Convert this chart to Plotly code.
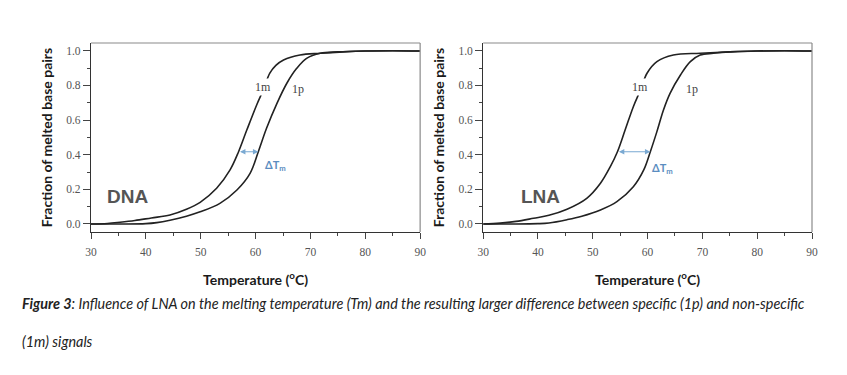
import plotly.graph_objects as go

# ---- data ----
dna_t_1m = [30, 33, 35.3, 38, 41, 44.4, 47.4, 49.9, 52.9, 55.35, 56.9, 58.4, 60.2, 61.4, 62.6, 63.7, 65.1, 68.1, 71.8, 76, 80, 85, 90]
dna_f_1m = [0, 0.003, 0.01, 0.02, 0.035, 0.052, 0.085, 0.125, 0.206, 0.312, 0.417, 0.542, 0.687, 0.773, 0.87, 0.915, 0.946, 0.975, 0.985, 0.993, 0.998, 1.0, 0.998]
dna_t_1p = [30, 35, 40, 42, 44.4, 47.4, 49.9, 53.5, 56.6, 59.0, 60.5, 62.0, 63.9, 65.7, 67.5, 69.3, 71.8, 75, 80, 85, 90]
dna_f_1p = [0, 0, 0.002, 0.008, 0.022, 0.045, 0.07, 0.119, 0.196, 0.292, 0.417, 0.552, 0.696, 0.812, 0.898, 0.956, 0.985, 0.993, 0.998, 1.0, 0.998]

lna_t_1m = [30, 33.1, 36, 39.2, 42, 45.3, 48.9, 51.4, 53.2, 54.5, 55.9, 57.4, 58.7, 59.9, 61.7, 64.7, 69.6, 75, 80, 85, 90]
lna_f_1m = [0, 0.005, 0.015, 0.033, 0.05, 0.085, 0.148, 0.235, 0.331, 0.417, 0.542, 0.677, 0.773, 0.87, 0.937, 0.975, 0.985, 0.993, 0.998, 1.0, 0.998]
lna_t_1p = [30, 35, 40, 42, 45.3, 48, 51.4, 54.4, 57.4, 59.3, 60.5, 61.7, 62.9, 64.1, 66.0, 67.8, 69.6, 72, 75, 80, 85, 90]
lna_f_1p = [0, 0, 0.002, 0.006, 0.025, 0.045, 0.081, 0.129, 0.215, 0.312, 0.417, 0.533, 0.658, 0.754, 0.86, 0.937, 0.975, 0.985, 0.993, 0.998, 1.0, 0.998]

panel_names = ["DNA", "LNA"]
x_ticks = [30, 40, 50, 60, 70, 80, 90]
y_ticks = [0.0, 0.2, 0.4, 0.6, 0.8, 1.0]
y_tick_labels = ["0.0", "0.2", "0.4", "0.6", "0.8", "1.0"]

# label positions [panel]: (T, fraction)
label_1m = [(61.4, 0.79), (58.7, 0.79)]
label_1p = [(67.8, 0.78), (68.1, 0.78)]
name_pos = [(36.6, 0.157), (40.4, 0.157)]
dtm_pos = [(63.6, 0.335), (62.8, 0.32)]
arrow_span = [(56.9, 60.5, 0.417), (54.5, 60.5, 0.417)]

OFF = 8  # page body margin in the browser
W, H = 847 - 2 * OFF, 375 - 2 * OFF
# targets in screenshot pixels
PL, PR, PT, PB = 91, 811.7, 43, 232
ML, MT = PL - OFF, PT - OFF
MR, MB = W - (PR - OFF), H - (PB - OFF)
PW, PH = W - ML - MR, H - MT - MB
doms_x = [(0, (420 - PL) / PW), ((483 - PL) / PW, 1)]
dom_y = (0, 1)


def paper_x(px):
    return (px - PL) / PW


def paper_y(py):
    return (PB - py) / PH


fig = go.Figure()
curves = [(dna_t_1m, dna_f_1m, dna_t_1p, dna_f_1p), (lna_t_1m, lna_f_1m, lna_t_1p, lna_f_1p)]
for i, (t1, f1, t2, f2) in enumerate(curves):
    xa = "x" if i == 0 else "x2"
    ya = "y" if i == 0 else "y2"
    for t, f in ((t1, f1), (t2, f2)):
        fig.add_trace(go.Scatter(x=t, y=f, mode="lines", xaxis=xa, yaxis=ya,
                                 line=dict(color="#222222", width=1.6, shape="spline", smoothing=1.0),
                                 showlegend=False, hoverinfo="skip"))

tick_font = dict(family="Liberation Serif, Times New Roman, serif", size=11.5, color="#555555")
title_font = dict(family="Lato, Open Sans, sans-serif", size=14, color="#1a1a1a")

layout = dict(width=W, height=H, margin=dict(l=ML, r=MR, t=MT, b=MB, autoexpand=False),
              template="none",
              paper_bgcolor="white", plot_bgcolor="white", showlegend=False)
for i in range(2):
    sx = "xaxis" if i == 0 else "xaxis2"
    sy = "yaxis" if i == 0 else "yaxis2"
    layout[sx] = dict(domain=list(doms_x[i]), range=[30, 90], anchor="y" if i == 0 else "y2",
                      automargin=False,
                      tickvals=x_ticks, ticks="outside", ticklen=6, tickcolor="#444", ticklabelstandoff=3,
                      minor=dict(dtick=5, ticks="outside", ticklen=3, tickcolor="#444"),
                      showline=True, linecolor="#333333", linewidth=1.2, showgrid=False, zeroline=False,
                      tickfont=tick_font,
                      title=dict(text="<b>Temperature (<sup>o</sup>C)</b>", font=title_font, standoff=18))
    layout[sy] = dict(domain=list(dom_y), range=[-0.0462, 1.0444], anchor="x" if i == 0 else "x2",
                      automargin=False,
                      tickvals=y_ticks, ticktext=y_tick_labels, ticks="outside", ticklen=7, tickcolor="#444",
                      minor=dict(dtick=0.1, tick0=0, ticks="outside", ticklen=3, tickcolor="#444"),
                      showline=True, linecolor="#333333", linewidth=1.2, showgrid=False, zeroline=False,
                      tickfont=tick_font,
                      title=dict(text="<b>Fraction of melted base pairs</b>", font=title_font, standoff=10))
fig.update_layout(**layout)

shapes = []
annotations = []
for i in range(2):
    xr = "x" if i == 0 else "x2"
    yr = "y" if i == 0 else "y2"
    # top and right frame lines (lighter)
    shapes.append(dict(type="line", xref=xr + " domain", yref=yr + " domain", x0=0, x1=1, y0=1, y1=1,
                       line=dict(color="#8a8a8a", width=1.2)))
    shapes.append(dict(type="line", xref=xr + " domain", yref=yr + " domain", x0=1, x1=1, y0=0, y1=1,
                       line=dict(color="#8a8a8a", width=1.2)))
    lx, ly = label_1m[i]
    annotations.append(dict(x=lx, y=ly, xref=xr, yref=yr, text="1m", showarrow=False,
                            font=dict(family="Liberation Serif, serif", size=12, color="#444"),
                            bgcolor="white", borderpad=1))
    px, py = label_1p[i]
    annotations.append(dict(x=px, y=py, xref=xr, yref=yr, text="1p", showarrow=False,
                            font=dict(family="Liberation Serif, serif", size=12, color="#444")))
    nx, ny = name_pos[i]
    annotations.append(dict(x=nx, y=ny, xref=xr, yref=yr, text="<b>" + panel_names[i] + "</b>", showarrow=False,
                            font=dict(family="Liberation Sans, Arial, sans-serif", size=19, color="#555555")))
    dx, dy = dtm_pos[i]
    annotations.append(dict(x=dx, y=dy, xref=xr, yref=yr, text="<b>ΔT<sub>m</sub></b>", showarrow=False,
                            font=dict(family="Lato, Open Sans, sans-serif", size=11, color="#5b8dc0")))
    a0, a1, ay = arrow_span[i]
    annotations.append(dict(x=a1, y=ay, ax=a0, ay=ay, xref=xr, yref=yr, axref=xr, ayref=yr,
                            text="", showarrow=True, arrowhead=2, arrowside="end+start",
                            arrowsize=0.9, arrowwidth=1.2, arrowcolor="#7aa9d2", standoff=0, startstandoff=0))

cap_font = dict(family="Lato, Open Sans, sans-serif", size=14.4, color="#222222")
annotations.append(dict(x=paper_x(20), y=paper_y(303), xref="paper", yref="paper", xanchor="left", yanchor="middle",
                        showarrow=False, font=cap_font,
                        text="<b><i>Figure 3</i></b><i>: Influence of LNA on the melting temperature (Tm) and the resulting larger difference between specific (1p) and non-specific</i>"))
annotations.append(dict(x=paper_x(20), y=paper_y(341), xref="paper", yref="paper", xanchor="left", yanchor="middle",
                        showarrow=False, font=cap_font, text="<i>(1m) signals</i>"))

fig.update_layout(shapes=shapes, annotations=annotations)
fig.write_html("out.html")
